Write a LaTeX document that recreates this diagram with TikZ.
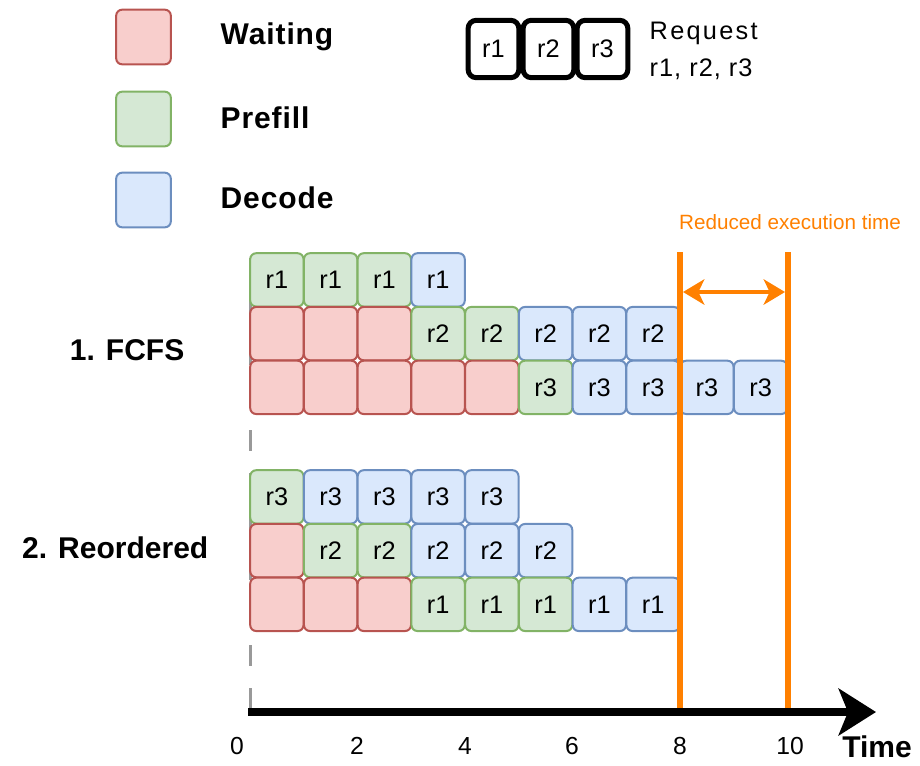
\documentclass[tikz,border=0pt]{standalone}
\usepackage{fontspec}
\setmainfont{Liberation Sans}
\usetikzlibrary{arrows.meta}
\definecolor{wfill}{HTML}{F8CECC}\definecolor{wline}{HTML}{B85450}
\definecolor{pfill}{HTML}{D5E8D4}\definecolor{pline}{HTML}{82B366}
\definecolor{dfill}{HTML}{DAE8FC}\definecolor{dline}{HTML}{6C8EBF}
\definecolor{orng}{HTML}{FF8000}
\definecolor{dgray}{HTML}{999999}
\tikzset{
  cell/.style={draw, rounded corners=4.5pt, line width=1.5pt, minimum width=40pt, minimum height=40pt, inner sep=0pt, font=\fontsize{19}{20}\selectfont},
  wbox/.style={cell, fill=wfill, draw=wline},
  pbox/.style={cell, fill=pfill, draw=pline},
  dbox/.style={cell, fill=dfill, draw=dline},
  reqbox/.style={draw=black, fill=white, line width=3.75pt, rounded corners=6pt, minimum width=38pt, minimum height=43pt, inner sep=0pt, font=\fontsize{19}{20}\selectfont},
  bigtxt/.style={font=\bfseries\fontsize{22.5}{24}\selectfont},
  ticktxt/.style={font=\fontsize{18.5}{20}\selectfont},
  orline/.style={draw=orng, line width=4.5pt}
}
\begin{document}
\begin{tikzpicture}[x=0.75pt,y=-0.75pt]
\useasboundingbox (0,0) rectangle (920,765);
% dashed start line
\coordinate (dtop) at (250,258);
\coordinate (dbot) at (250,712);
\draw[dgray, line width=2.25pt, dash pattern=on 15.75pt off 16.5pt] (dtop) -- (dbot);
% legend
\node[wbox, minimum width=41pt, minimum height=41pt] (lw) at (143.5,37) {};
\node[pbox, minimum width=41pt, minimum height=41pt] (lp) at (143.5,119) {};
\node[dbox, minimum width=41pt, minimum height=41pt] (ld) at (143.5,200) {};
\node[bigtxt, anchor=west] (tw) at (216,37) {\addfontfeature{LetterSpace=3}Waiting};
\node[bigtxt, anchor=west] (tp) at (216,118) {\addfontfeature{LetterSpace=3}Prefill};
\node[bigtxt, anchor=west] (td) at (216,198) {\addfontfeature{LetterSpace=3}Decode};
\node[reqbox] (q1) at (493.5,49) {r1};
\node[reqbox] (q2) at (548.5,49) {r2};
\node[reqbox] (q3) at (602.5,49) {r3};
\node[anchor=west, align=left, font=\fontsize{19}{28}\selectfont] (qt) at (645,51) {\addfontfeature{LetterSpace=9}Request\\\addfontfeature{LetterSpace=4}r1, r2, r3};
% FCFS
\foreach \s/\l [count=\i from 0] in {pbox/r1,pbox/r1,pbox/r1,dbox/r1}
  {\node[\s] (fa\i) at ({276.875+53.75*\i},279.875) {\l};}
\foreach \s/\l [count=\i from 0] in {wbox/{},wbox/{},wbox/{},pbox/r2,pbox/r2,dbox/r2,dbox/r2,dbox/r2}
  {\node[\s] (fb\i) at ({276.875+53.75*\i},333.625) {\l};}
\foreach \s/\l [count=\i from 0] in {wbox/{},wbox/{},wbox/{},wbox/{},wbox/{},pbox/r3,dbox/r3,dbox/r3,dbox/r3,dbox/r3}
  {\node[\s] (fc\i) at ({276.875+53.75*\i},387.375) {\l};}
% Reordered
\foreach \s/\l [count=\i from 0] in {pbox/r3,dbox/r3,dbox/r3,dbox/r3,dbox/r3}
  {\node[\s] (ra\i) at ({276.875+53.75*\i},496.875) {\l};}
\foreach \s/\l [count=\i from 0] in {wbox/{},pbox/r2,pbox/r2,dbox/r2,dbox/r2,dbox/r2}
  {\node[\s] (rb\i) at ({276.875+53.75*\i},550.625) {\l};}
\foreach \s/\l [count=\i from 0] in {wbox/{},wbox/{},wbox/{},pbox/r1,pbox/r1,pbox/r1,dbox/r1,dbox/r1}
  {\node[\s] (rc\i) at ({276.875+53.75*\i},604.375) {\l};}
% row labels
\node[bigtxt, anchor=east] (lf) at (189,350) {1. FCFS};
\node[bigtxt, anchor=east] (lr) at (213,548) {2. Reordered};
% orange markers
\coordinate (o8t) at (680,252);
\coordinate (o8b) at (680,712);
\coordinate (o10t) at (788,252);
\coordinate (o10b) at (788,712);
\draw[orline] (o8t) -- (o8b);
\draw[orline] (o10t) -- (o10b);
\coordinate (da) at (683,292);
\coordinate (db) at (785,292);
\draw[orng, line width=3pt, {Stealth[length=16pt,width=19pt,inset=4.5pt]}-{Stealth[length=16pt,width=19pt,inset=4.5pt]}] (da) -- (db);
\node[text=orng, font=\fontsize{15.5}{17}\selectfont] (red) at (790,222) {Reduced execution time};
% time axis
\coordinate (ax0) at (248,712);
\coordinate (ax1) at (876,712);
\draw[black, line width=6pt, -{Stealth[length=28pt,width=35pt,inset=7pt]}] (ax0) -- (ax1);
\node[ticktxt] (t0) at (237,746) {0};
\node[ticktxt] (t2) at (357,746) {2};
\node[ticktxt] (t4) at (465,746) {4};
\node[ticktxt] (t6) at (572,746) {6};
\node[ticktxt] (t8) at (680,746) {8};
\node[ticktxt] (t10) at (790,746) {10};
\node[bigtxt] (tt) at (877,747) {Time};
\end{tikzpicture}
\end{document}
